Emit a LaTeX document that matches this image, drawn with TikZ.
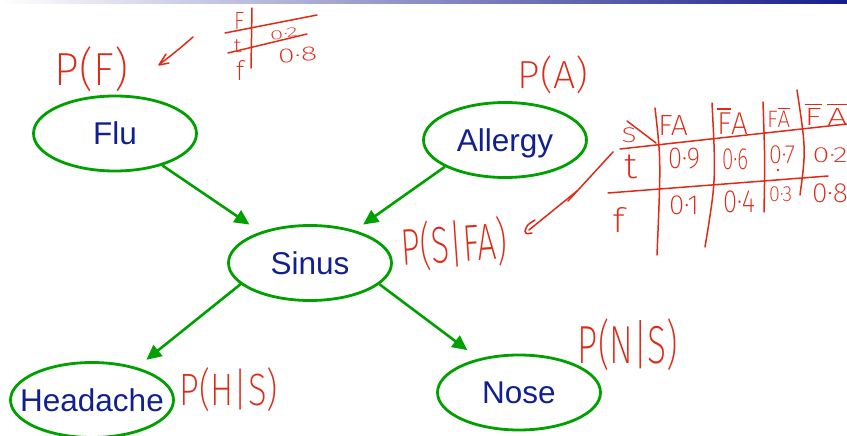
\documentclass[tikz,border=0pt]{standalone}
\usepackage{fontspec}
\setmainfont{Liberation Sans}
\IfFontExistsTF{Fira Sans ExtraLight}
  {\newfontfamily\hwfont{Fira Sans ExtraLight}}
  {\IfFontExistsTF{Fira Sans Light}
    {\newfontfamily\hwfont{Fira Sans Light}}
    {\IfFontExistsTF{DejaVu Sans ExtraLight}
      {\newfontfamily\hwfont{DejaVu Sans ExtraLight}}
      {\IfFontExistsTF{Lato Light}
        {\newfontfamily\hwfont{Lato Light}}
        {\newfontfamily\hwfont{Liberation Sans}}}}}
\usepackage{graphicx}
\usetikzlibrary{shapes.geometric,arrows.meta}
\definecolor{nodegreen}{RGB}{0,160,0}
\definecolor{nodetext}{RGB}{16,32,144}
\definecolor{inkred}{RGB}{222,42,22}
\definecolor{barblue}{RGB}{22,28,140}
\definecolor{barmid}{RGB}{175,177,208}
\newcommand\hwbox[3]{\resizebox*{#1}{#2}{\hwfont #3}}
\begin{document}
\begin{tikzpicture}[x=1pt,y=-1pt,
  bn/.style={ellipse, draw=nodegreen, line width=2.8pt, minimum width=163pt,
    minimum height=75pt, inner sep=0pt, text=nodetext,
    font=\fontsize{31.5}{36}\selectfont, text height=22.6pt, text depth=0pt},
  arr/.style={draw=nodegreen, line width=2.6pt, -{Triangle[length=15pt,width=14pt]}},
  ink/.style={draw=inkred, line width=1.5pt, line cap=round, line join=round},
  hw/.style={inner sep=0pt, text=inkred, anchor=center},
]
\useasboundingbox (0,0) rectangle (847,436);
\shade[left color=white, middle color=barmid, right color=barblue] (0,0) rectangle (847,3.5);

% nodes
\node[bn] (flu) at (115,133.5) {\makebox[0pt]{Flu}};
\node[bn] (allergy) at (505,140) {\makebox[0pt]{Allergy}};
\node[bn] (sinus) at (310,263) {\makebox[0pt]{Sinus}};
\node[bn] (headache) at (92,400) {\makebox[0pt]{Headache}};
\node[bn] (nose) at (519,392.5) {\makebox[0pt]{Nose}};

% edges
\draw[arr, shorten >=13pt] (flu.326) -- (sinus.148);
\draw[arr, shorten >=10pt] (allergy.204) -- (sinus.36);
\draw[arr, shorten >=12pt] (sinus.197) -- (headache.36.5);
\draw[arr, shorten >=14pt] (sinus.343) -- (nose.140);

% handwritten labels
\node[hw] (pf) at (91.5,69.5) {\hwbox{73pt}{45pt}{P(F)}};
\node[hw] (pa) at (553,75) {\hwbox{70pt}{38pt}{P(A)}};
\node[hw, rotate=4] (psfa) at (454,244) {\hwbox{106pt}{50pt}{P(S|FA)}};
\node[hw] (phs) at (229,390) {\hwbox{98pt}{44pt}{P(H|S)}};
\node[hw] (pns) at (628,345) {\hwbox{100pt}{52pt}{P(N|S)}};

% table for F
\node[hw] (tF) at (239,21) {\hwbox{10pt}{17pt}{F}};
\node[hw] (tt) at (237.5,46) {\hwbox{8pt}{13pt}{t}};
\node[hw] (tf) at (240,70) {\hwbox{8pt}{20pt}{f}};
\node[hw, rotate=8] (v02) at (284,34) {\hwbox{28pt}{9pt}{0·2}};
\node[hw, rotate=5] (v08) at (297.5,55.5) {\hwbox{39pt}{14pt}{0·8}};
\draw[ink] (252,8) -- (251,68);
\draw[ink] (225,33) -- (317,15);
\draw[ink] (228,53) -- (307,34);

% hand arrow to P(F)
\coordinate (a1s) at (193,37);
\coordinate (a1e) at (160,64);
\draw[ink] (a1s) .. controls (178,50) .. (a1e);
\draw[ink] (166,54) .. controls (162,60) .. (159,65) -- (169,63);

% hand arrow to P(S|FA)
\draw[ink] (613,152) -- (568,201);
\draw[ink] (577,191) -- (529,230);
\draw[ink] (535,220) .. controls (527,225) .. (525,231) .. controls (526,234) .. (532,233);

% table for S
\draw[ink] (620,149) -- (847,124);
\draw[ink] (608,193) -- (828,176);
\draw[ink] (655,108) .. controls (661,160) .. (657,255);
\draw[ink] (712,103) .. controls (716,180) .. (705,247);
\draw[ink] (763,102) .. controls (765,160) .. (764,212);
\draw[ink] (797,90) .. controls (806,150) .. (800,195);
\draw[ink] (627,121) -- (656,143);

\node[hw] (sS) at (629,135.5) {\hwbox{15pt}{15pt}{S}};
\node[hw] (st) at (631,167) {\hwbox{13pt}{24pt}{t}};
\node[hw] (sf) at (618.5,219.5) {\hwbox{12pt}{25pt}{f}};
\node[hw] (h1) at (673,125) {\hwbox{30pt}{20pt}{FA}};
\node[hw] (h2) at (732.5,121) {\hwbox{31pt}{28pt}{$\overline{\mbox{\hwfont F}}$A}};
\node[hw] (h3) at (778.5,117.5) {\hwbox{23pt}{21pt}{F$\overline{\mbox{\hwfont A}}$}};
\node[hw] (h4) at (826,114) {\hwbox{43pt}{22pt}{$\overline{\mbox{\hwfont F}}\,\overline{\mbox{\hwfont A}}$}};

\node[hw] (t1) at (684,159) {\hwbox{32pt}{21pt}{0·9}};
\node[hw] (t2) at (735,159) {\hwbox{26pt}{21pt}{0·6}};
\node[hw] (t3) at (782,155) {\hwbox{26pt}{18pt}{0·7}};
\node[hw] (t4) at (830,155) {\hwbox{35pt}{15pt}{0·2}};
\fill[inkred] (778,170) circle (1.3);

\node[hw] (f1) at (684,205) {\hwbox{30pt}{19pt}{0·1}};
\node[hw] (f2) at (739,202) {\hwbox{32pt}{22pt}{0·4}};
\node[hw] (f3) at (780.5,194.5) {\hwbox{23pt}{15pt}{0·3}};
\node[hw] (f4) at (830,193) {\hwbox{36pt}{19pt}{0·8}};
\end{tikzpicture}
\end{document}
